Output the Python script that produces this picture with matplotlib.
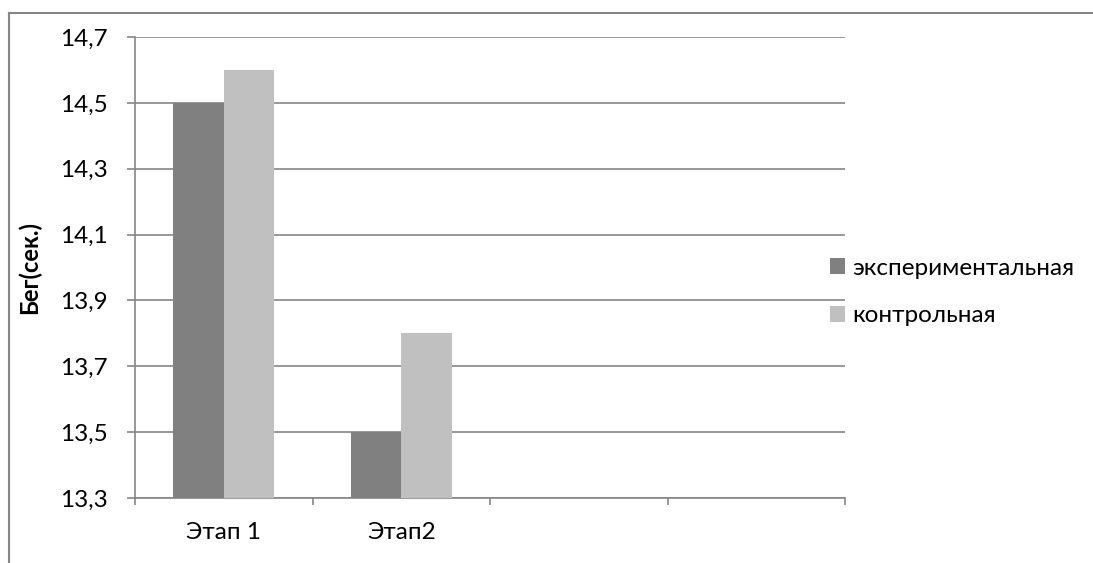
import matplotlib
matplotlib.use("Agg")
import matplotlib.pyplot as plt
from matplotlib.lines import Line2D
from matplotlib.ticker import FuncFormatter, FixedLocator
import numpy as np

plt.rcParams['font.family'] = ['Lato', 'DejaVu Sans']

# data
categories = ["Этап 1", "Этап2", "", ""]
series_names = ["экспериментальная", "контрольная"]
exp_vals = [14.5, 13.5]
ctrl_vals = [14.6, 13.8]
y_ticks = [13.3, 13.5, 13.7, 13.9, 14.1, 14.3, 14.5, 14.7]

W, H = 1093, 563
fig = plt.figure(figsize=(W / 100, H / 100), dpi=100)
ax = fig.add_axes([135 / W, 1 - 498 / H, 710 / W, 461 / H])

grey = "#868686"
fs = 17.5
bw = 0.2857
x = np.arange(len(exp_vals)) + 0.5
ax.bar(x - bw / 2, exp_vals, width=bw, color="#808080", label=series_names[0], zorder=3)
ax.bar(x + bw / 2, ctrl_vals, width=bw, color="#c0c0c0", label=series_names[1], zorder=3)

ax.set_xlim(0, len(categories))
ax.set_ylim(y_ticks[0], y_ticks[-1])

ax.set_yticks(y_ticks)
ax.yaxis.set_major_formatter(FuncFormatter(lambda v, p: f"{v:.1f}".replace(".", ",")))
ax.yaxis.grid(True, color=grey, linewidth=1.2, zorder=0)
ax.set_axisbelow(True)

ax.xaxis.set_major_locator(FixedLocator(np.arange(len(categories) + 1)))
ax.xaxis.set_major_formatter(FuncFormatter(lambda v, p: ""))
ax.xaxis.set_minor_locator(FixedLocator(np.arange(len(categories)) + 0.5))
ax.set_xticklabels(categories, minor=True)

ax.tick_params(axis="y", direction="out", length=6, width=1.2, color=grey,
               labelsize=fs, pad=13.5)
ax.tick_params(axis="x", which="major", direction="out", length=5, width=1.2, color=grey)
ax.tick_params(axis="x", which="minor", length=0, labelsize=fs, pad=17)

for s in ["top", "right"]:
    ax.spines[s].set_visible(False)
for s in ["left", "bottom"]:
    ax.spines[s].set_color(grey)
    ax.spines[s].set_linewidth(1.2)

ax.set_ylabel("Бег(сек.)", fontsize=17, fontweight="bold")
ax.yaxis.set_label_coords((41 - 135) / 710, 0.5)

ax.legend(loc="center left", bbox_to_anchor=(830 / W, 1 - 292 / H),
          bbox_transform=fig.transFigure, frameon=False, fontsize=fs,
          handlelength=0.62, handleheight=0.62, handletextpad=0.3,
          labelspacing=1.1, borderpad=0, borderaxespad=0)

# outer chart frame
fig.add_artist(Line2D([9 / W, 9 / W], [0, 1 - 13 / H], color=grey, linewidth=1.5,
                      transform=fig.transFigure))
fig.add_artist(Line2D([9 / W, 1], [1 - 13 / H, 1 - 13 / H], color=grey, linewidth=1.5,
                      transform=fig.transFigure))

fig.savefig("out.png", dpi=100)
